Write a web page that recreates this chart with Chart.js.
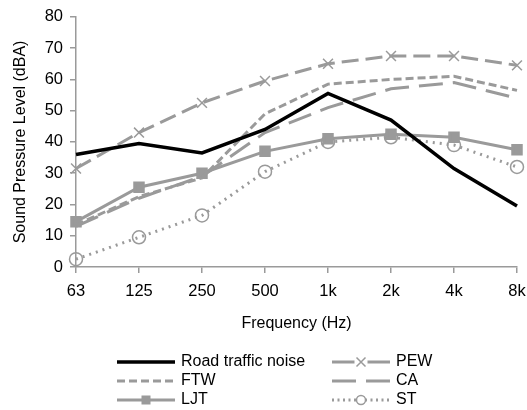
<!DOCTYPE html>
<html>
<head>
<meta charset="utf-8">
<script src="https://cdn.jsdelivr.net/npm/chart.js@4"></script>
<style>
  html, body { margin: 0; padding: 0; background: #fff; }
  #wrap { width: 527px; height: 410px; position: relative; }
</style>
</head>
<body>
<div id="wrap"><canvas id="myChart" width="527" height="410"></canvas></div>
<script>
// frequency bands
var freqs = ["63", "125", "250", "500", "1k", "2k", "4k", "8k"];
var yTicks = [0, 10, 20, 30, 40, 50, 60, 70, 80];

// sound pressure levels (dBA)
var roadNoise = [36, 39.5, 36.5, 44, 55.5, 47, 31.5, 19.5];
var pew = [31.5, 43, 52.5, 59.5, 65, 67.5, 67.5, 64.5];
var ftw = [13.5, 22.5, 28.5, 49, 58.5, 60, 61, 56.5];
var ca = [13, 22, 29, 43, 51, 57, 59, 54];
var ljt = [14.5, 25.5, 30, 37, 41, 42.5, 41.5, 37.5];
var st = [2.5, 9.5, 16.5, 30.5, 40, 41.5, 39, 32];

var grey = "#9a9a9a";
var fontName = "'Liberation Sans', Arial, sans-serif";

var datasets = [
    { label: "Road traffic noise", data: roadNoise, borderColor: "#000", borderWidth: 3.5, pointRadius: 0 },
    { label: "PEW", data: pew, borderColor: grey, borderWidth: 3, borderDash: [17, 7],
      pointStyle: "cross", rotation: 45, pointRadius: 7, pointBorderWidth: 1.5, pointBorderColor: grey,
      legendDash: [] },
    { label: "FTW", data: ftw, borderColor: grey, borderWidth: 3, borderDash: [8, 4], pointRadius: 0 },
    { label: "CA", data: ca, borderColor: grey, borderWidth: 3, borderDash: [24, 10], pointRadius: 0 },
    { label: "LJT", data: ljt, borderColor: grey, borderWidth: 3,
      pointStyle: "rect", pointRadius: 6, pointBackgroundColor: grey, pointBorderColor: grey },
    { label: "ST", data: st, borderColor: grey, borderWidth: 3, borderDash: [2, 5], borderCapStyle: "butt",
      pointStyle: "circle", pointRadius: 6.5, pointBorderWidth: 1.5, pointBorderColor: grey,
      pointBackgroundColor: "rgba(0,0,0,0)", legendDash: [2, 3.5] }
];
datasets.forEach(function (d) {
    d.fill = false;
    d.tension = 0;
    d.backgroundColor = d.pointBackgroundColor || d.borderColor;
});

// legend drawn by hand: two columns, three rows
var legendPlugin = {
    id: "sideLegend",
    afterDraw: function (chart) {
        var ctx = chart.ctx;
        var cols = [117, 332];
        var rows = [362, 381, 400];
        var lineLen = 58;
        ctx.save();
        ctx.font = "16px " + fontName;
        ctx.textBaseline = "middle";
        chart.data.datasets.forEach(function (ds, i) {
            var x = cols[i % 2], y = rows[Math.floor(i / 2)];
            var cx = x + lineLen / 2;
            ctx.strokeStyle = ds.borderColor;
            ctx.lineWidth = ds.borderWidth;
            ctx.setLineDash(ds.legendDash || ds.borderDash || []);
            ctx.beginPath();
            ctx.moveTo(x, y);
            ctx.lineTo(x + lineLen, y);
            ctx.stroke();
            ctx.setLineDash([]);
            ctx.strokeStyle = grey;
            ctx.lineWidth = 1.5;
            if (ds.pointStyle === "rect" && ds.pointRadius > 0) {
                ctx.fillStyle = grey;
                ctx.fillRect(cx - 4.5, y - 4.5, 9, 9);
            } else if (ds.pointStyle === "circle" && ds.pointRadius > 0) {
                ctx.fillStyle = "#fff";
                ctx.beginPath();
                ctx.arc(cx, y, 4.5, 0, Math.PI * 2);
                ctx.fill();
                ctx.stroke();
            } else if (ds.pointStyle === "cross" && ds.pointRadius > 0) {
                var r = 4.5;
                ctx.fillStyle = "#fff";
                ctx.fillRect(cx - r - 2, y - r, 2 * r + 4, 2 * r);
                ctx.beginPath();
                ctx.moveTo(cx - r, y - r); ctx.lineTo(cx + r, y + r);
                ctx.moveTo(cx + r, y - r); ctx.lineTo(cx - r, y + r);
                ctx.stroke();
            }
            ctx.fillStyle = "#000";
            ctx.fillText(ds.label, x + lineLen + 6, y);
        });
        ctx.restore();
    }
};

var ctx = document.getElementById("myChart").getContext("2d");
var chart = new Chart(ctx, {
    type: "line",
    data: { labels: freqs, datasets: datasets },
    plugins: [legendPlugin],
    options: {
        responsive: false,
        animation: false,
        devicePixelRatio: 1,
        layout: { padding: { top: 8, right: 0, bottom: 73, left: 0 } },
        plugins: { legend: { display: false }, tooltip: { enabled: false } },
        scales: {
            x: {
                offset: false,
                grid: { drawOnChartArea: false, tickLength: 6, color: grey, lineWidth: 1.5 },
                border: { color: grey, width: 1.5 },
                ticks: { color: "#000", font: { size: 16.5, family: fontName }, padding: 9, maxRotation: 0 },
                title: { display: true, text: "Frequency (Hz)", color: "#000",
                         font: { size: 16, family: fontName }, padding: { top: 12 } },
                afterFit: function (s) { s.height = 70; s.paddingLeft = 0; s.paddingRight = 10; }
            },
            y: {
                min: 0, max: 80,
                afterBuildTicks: function (s) { s.ticks = yTicks.map(function (v) { return { value: v }; }); },
                grid: { drawOnChartArea: false, tickLength: 6, color: grey, lineWidth: 1.5 },
                border: { color: grey, width: 1.5 },
                ticks: { color: "#000", font: { size: 16.5, family: fontName }, padding: 7 },
                title: { display: true, text: "Sound Pressure Level (dBA)", color: "#000",
                         font: { size: 16, family: fontName }, padding: { top: 11, bottom: 0 } },
                afterFit: function (s) { s.width = 76; }
            }
        }
    }
});
</script>
</body>
</html>
